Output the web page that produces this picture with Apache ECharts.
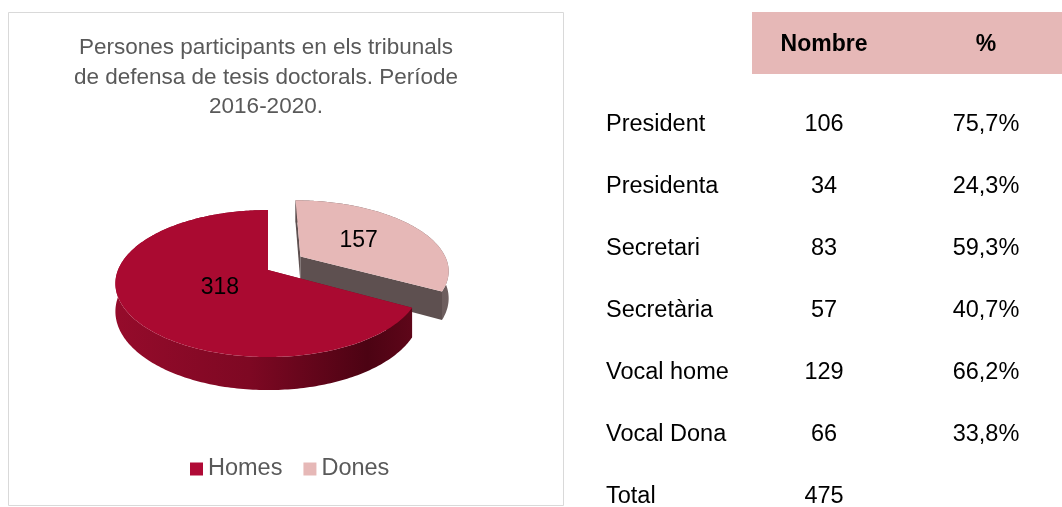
<!DOCTYPE html>
<html>
<head>
<meta charset="utf-8">
<script src="https://cdn.jsdelivr.net/npm/echarts@6/dist/echarts.min.js"></script>
<style>
  html, body { margin: 0; padding: 0; background: #ffffff; }
  #chart { width: 1062px; height: 507px; }
</style>
</head>
<body>
<div id="chart"></div>
<script>
// ---- data ----
const genderNames = ['Homes', 'Dones'];
const genderCounts = [318, 157];

const titleLines = [
  'Persones participants en els tribunals',
  'de defensa de tesis doctorals. Període',
  '2016-2020.'
];

const tableHeader = ['Nombre', '%'];
const roles = ['President', 'Presidenta', 'Secretari', 'Secretària', 'Vocal home', 'Vocal Dona'];
const roleCounts = [106, 34, 83, 57, 129, 66];
const rolePercents = ['75,7%', '24,3%', '59,3%', '40,7%', '66,2%', '33,8%'];
const totalLabel = 'Total';
const totalCount = 475;

// ---- styling ----
const FONT = "'Liberation Sans', Arial, Helvetica, sans-serif";
const TOP_COLORS = ['#aa0a31', '#e6b8b7'];
const LEGEND_COLORS = ['#b00a36', '#e6b8b7'];
const WALL_FILLS = [
  new echarts.graphic.LinearGradient(0, 0, 1, 0, [
    { offset: 0, color: '#950b2b' },
    { offset: 0.45, color: '#7e0823' },
    { offset: 0.85, color: '#4c0313' },
    { offset: 1, color: '#5e0619' }
  ]),
  new echarts.graphic.LinearGradient(0, 0, 1, 0, [
    { offset: 0, color: '#5a4b4b' },
    { offset: 1, color: '#6e5f5f' }
  ])
];
const FACE_FILLS = ['#7a0822', '#5e5050'];

// tilted disc with mild perspective (front edge appears larger)
const PIE = { cx: 268, cy: 270, rx: 150, ry: 71, depth: 27, persp: 0.184 };
const EXPLODE = [0, 0.26];
const EXPLODE_LIFT = 1.5;
const LABEL_R = [0.36, 0.5];

function project(X, V, z) {
  const p = 1 / (1 - PIE.persp * V);
  return [PIE.cx + PIE.rx * X * p, PIE.cy + PIE.ry * V * p + PIE.depth * z * p];
}

function renderSlice(params, api) {
  const i = params.seriesIndex;
  const total = genderCounts.reduce((a, b) => a + b, 0);
  let before = 0;
  for (let k = 0; k < i; k++) before += genderCounts[k];
  const value = api.value(0);
  // slices run counter-clockwise from 12 o'clock; angles measured clockwise from top
  const a1 = 2 * Math.PI * (1 - before / total);
  const a0 = 2 * Math.PI * (1 - (before + value) / total);
  const mid = (a0 + a1) / 2;
  const ex = EXPLODE[i];
  const ox = ex * Math.sin(mid), oy = -ex * Math.cos(mid) * EXPLODE_LIFT;
  const pt = (a, r, z) => project(r * Math.sin(a) + ox, -r * Math.cos(a) + oy, z);

  const N = Math.max(12, Math.ceil((a1 - a0) / (Math.PI / 180)));
  const topArc = [], botArc = [];
  for (let s = 0; s <= N; s++) {
    const a = a0 + (a1 - a0) * s / N;
    topArc.push(pt(a, 1, 0));
    botArc.push(pt(a, 1, 1));
  }
  const c0 = pt(0, 0, 0), c1 = pt(0, 0, 1);
  const children = [];
  [a0, a1].forEach(a => {
    children.push({
      type: 'polygon',
      shape: { points: [c0, pt(a, 1, 0), pt(a, 1, 1), c1] },
      style: { fill: FACE_FILLS[i] }
    });
  });
  children.push({
    type: 'polygon',
    shape: { points: topArc.concat(botArc.slice().reverse()) },
    style: { fill: WALL_FILLS[i] }
  });
  children.push({
    type: 'polygon',
    shape: { points: [c0].concat(topArc) },
    style: { fill: TOP_COLORS[i] }
  });
  const lp = pt(mid, LABEL_R[i], 0);
  children.push({
    type: 'text',
    x: lp[0], y: lp[1] + (i === 0 ? 4 : 0),
    style: { text: String(value), fill: '#000000', font: '23px ' + FONT, align: 'center', verticalAlign: 'middle' }
  });
  return { type: 'group', children };
}

// ---- table and frame as graphic elements ----
const graphics = [];
graphics.push({
  type: 'rect',
  shape: { x: 8.5, y: 12.5, width: 555, height: 493 },
  style: { fill: 'none', stroke: '#d9d9d9', lineWidth: 1 },
  silent: true
});
titleLines.forEach((line, k) => {
  graphics.push({
    type: 'text', x: 266, y: 48 + k * 29.5,
    style: { text: line, fill: '#595959', font: '22.5px ' + FONT, align: 'center', verticalAlign: 'middle' }
  });
});
graphics.push({
  type: 'rect',
  shape: { x: 752, y: 12, width: 310, height: 62 },
  style: { fill: '#e6b8b7' }
});
const COL_X = [606, 824, 986];
const HEADER_Y = 45;
const ROW_Y0 = 125, ROW_STEP = 62;
tableHeader.forEach((h, k) => {
  graphics.push({
    type: 'text', x: COL_X[k + 1], y: HEADER_Y,
    style: { text: h, fill: '#000000', font: 'bold 23px ' + FONT, align: 'center', verticalAlign: 'middle' }
  });
});
const cellStyle = (text, align) => ({ text, fill: '#000000', font: '23.5px ' + FONT, align, verticalAlign: 'middle' });
roles.forEach((r, k) => {
  const y = ROW_Y0 + k * ROW_STEP;
  graphics.push({ type: 'text', x: COL_X[0], y, style: cellStyle(r, 'left') });
  graphics.push({ type: 'text', x: COL_X[1], y, style: cellStyle(String(roleCounts[k]), 'center') });
  graphics.push({ type: 'text', x: COL_X[2], y, style: cellStyle(rolePercents[k], 'center') });
});
const totalY = ROW_Y0 + roles.length * ROW_STEP;
graphics.push({ type: 'text', x: COL_X[0], y: totalY, style: cellStyle(totalLabel, 'left') });
graphics.push({ type: 'text', x: COL_X[1], y: totalY, style: cellStyle(String(totalCount), 'center') });

const chart = echarts.init(document.getElementById('chart'), null, { renderer: 'canvas' });
chart.setOption({
  backgroundColor: '#ffffff',
  animation: false,
  legend: {
    data: genderNames.map((n, k) => ({ name: n, itemStyle: { color: LEGEND_COLORS[k] } })),
    icon: 'rect',
    itemWidth: 13,
    itemHeight: 13,
    itemGap: 21,
    left: 190,
    top: 457,
    padding: 0,
    textStyle: { fontSize: 23.5, color: '#595959', fontFamily: FONT }
  },
  graphic: graphics,
  series: genderNames.map((n, k) => ({
    type: 'custom',
    name: n,
    coordinateSystem: 'none',
    z: 3 - k,
    itemStyle: { color: LEGEND_COLORS[k] },
    renderItem: renderSlice,
    data: [[genderCounts[k]]]
  }))
});
</script>
</body>
</html>
